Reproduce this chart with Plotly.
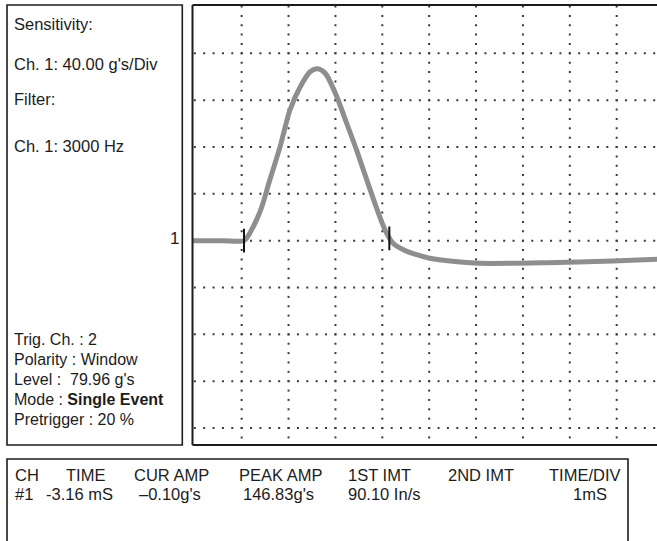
import numpy as np
import plotly.graph_objects as go

W, H = 657, 541

# ---- waveform data: time (ms, trigger at 0) and acceleration (g's) ----
time_ms = [-2.05, -1.40, -0.95, -0.87, -0.79, -0.68, -0.57, -0.40, -0.18, 0.03,
           0.25, 0.46, 0.60, 0.72, 0.81, 1.03, 1.24, 1.45, 1.67, 1.88,
           2.06, 2.23, 2.45, 2.66, 3.02, 3.50, 4.08, 5.51, 6.92, 7.87]
accel_g = [0.0, 0.0, 0.0, 3.5, 9.1, 18.0, 29.0, 51.8, 80.3, 111.6,
           131.5, 144.3, 146.8, 145.3, 141.5, 123.0, 100.3, 77.5, 51.8, 27.7,
           9.1, -2.2, -7.8, -11.1, -15.0, -17.6, -19.3, -18.8, -17.3, -15.9]

# cursor marks on the trace
cursor_ms = [-0.95, 2.15]
cursor_g = [0.0, 2.0]

# scope graticule
time_per_div = 1.0     # ms
sens_per_div = 40.0    # g's
x_range = [-2.049, 7.86]
y_range = [-174.5, 201.3]
vgrid_ms = list(range(-1, 8))
hgrid_g = [-160, -120, -80, -40, 0, 40, 80, 120, 160]

# text panels
setup_lines = ["Sensitivity:", "Ch. 1: 40.00 g's/Div", "Filter:", "Ch. 1: 3000 Hz"]
trigger_lines = ["Trig. Ch. : 2", "Polarity : Window", "Level :  79.96 g's",
                 "Mode : <b>Single Event</b>", "Pretrigger : 20 %"]
table_headers = ["CH", "TIME", "CUR AMP", "PEAK AMP", "1ST IMT", "2ND IMT", "TIME/DIV"]
table_values = ["#1", "-3.16 mS", "\u20130.10g's", "146.83g's", "90.10 In/s", "", "1mS"]

FONT = "Liberation Sans, Arial, sans-serif"
INK = "#1c1c1c"


def px(x):
    return x / W


def py(y):
    return 1 - y / H


fig = go.Figure()

# graticule dots
dot_x, dot_y = [], []
minor_ms = np.arange(x_range[0] + 0.049, x_range[1], time_per_div / 5)
minor_g = np.arange(-168, y_range[1], sens_per_div / 5)
for g in hgrid_g:
    dot_x.extend(minor_ms.tolist())
    dot_y.extend([g] * len(minor_ms))
for t in vgrid_ms:
    dot_x.extend([t] * len(minor_g))
    dot_y.extend(minor_g.tolist())
fig.add_trace(go.Scatter(x=dot_x, y=dot_y, mode="markers",
                         marker=dict(symbol="square", size=2, color="#3a3a3a"),
                         hoverinfo="skip", showlegend=False))

# waveform
fig.add_trace(go.Scatter(x=time_ms, y=accel_g, mode="lines",
                         line=dict(color="#8e8e8e", width=5, shape="spline", smoothing=0.8),
                         showlegend=False))

# cursors
fig.add_trace(go.Scatter(x=cursor_ms, y=cursor_g, mode="markers",
                         marker=dict(symbol="line-ns", size=17,
                                     line=dict(color="#111111", width=2)),
                         showlegend=False))

x0, x1 = 192.5, 657
y0, y1 = 5, 445
fig.update_layout(
    width=W, height=H,
    margin=dict(l=0, r=0, t=0, b=0),
    paper_bgcolor="white", plot_bgcolor="white",
    xaxis=dict(domain=[px(x0), 1], range=x_range, visible=False, showgrid=False, zeroline=False),
    yaxis=dict(domain=[py(y1), py(y0)], range=y_range, visible=False, showgrid=False, zeroline=False),
)

shapes = []
# scope screen frame (right side cut off)
shapes.append(dict(type="line", xref="paper", yref="paper", x0=px(x0), x1=px(x0), y0=py(y0), y1=py(y1),
                   line=dict(color=INK, width=2)))
shapes.append(dict(type="line", xref="paper", yref="paper", x0=px(x0), x1=1.01, y0=py(y0), y1=py(y0),
                   line=dict(color=INK, width=2)))
shapes.append(dict(type="line", xref="paper", yref="paper", x0=px(x0), x1=1.01, y0=py(y1), y1=py(y1),
                   line=dict(color=INK, width=2)))
# left info panel
shapes.append(dict(type="rect", xref="paper", yref="paper", x0=px(7), x1=px(182.3), y0=py(445), y1=py(5),
                   line=dict(color=INK, width=1.6)))
# bottom readout table
shapes.append(dict(type="rect", xref="paper", yref="paper", x0=px(7), x1=px(628), y0=py(548), y1=py(459),
                   line=dict(color=INK, width=1.6)))
fig.update_layout(shapes=shapes)

ann = []


def add_text(txt, x, y, size, anchor="left"):
    ann.append(dict(text=txt, x=px(x), y=py(y), xref="paper", yref="paper",
                    xanchor=anchor, yanchor="middle", showarrow=False, borderpad=0,
                    font=dict(family=FONT, size=size, color=INK)))


for txt, yy in zip(setup_lines, [24, 64, 99, 146]):
    add_text(txt, 13, yy, 16.5)
for i, txt in enumerate(trigger_lines):
    add_text(txt, 13, 339 + 20 * i, 16)
# channel marker
add_text("1", 174, 238, 17, anchor="center")

head_x = [14, 65, 133, 238, 347, 447, 548]
val_x = [14, 45, 138, 242, 347, 447, 572]
for txt, xx in zip(table_headers, head_x):
    add_text(txt, xx, 474.5, 16.5)
for txt, xx in zip(table_values, val_x):
    if txt:
        add_text(txt, xx, 493.5, 16.5)
fig.update_layout(annotations=ann)

fig.write_html("out.html")
